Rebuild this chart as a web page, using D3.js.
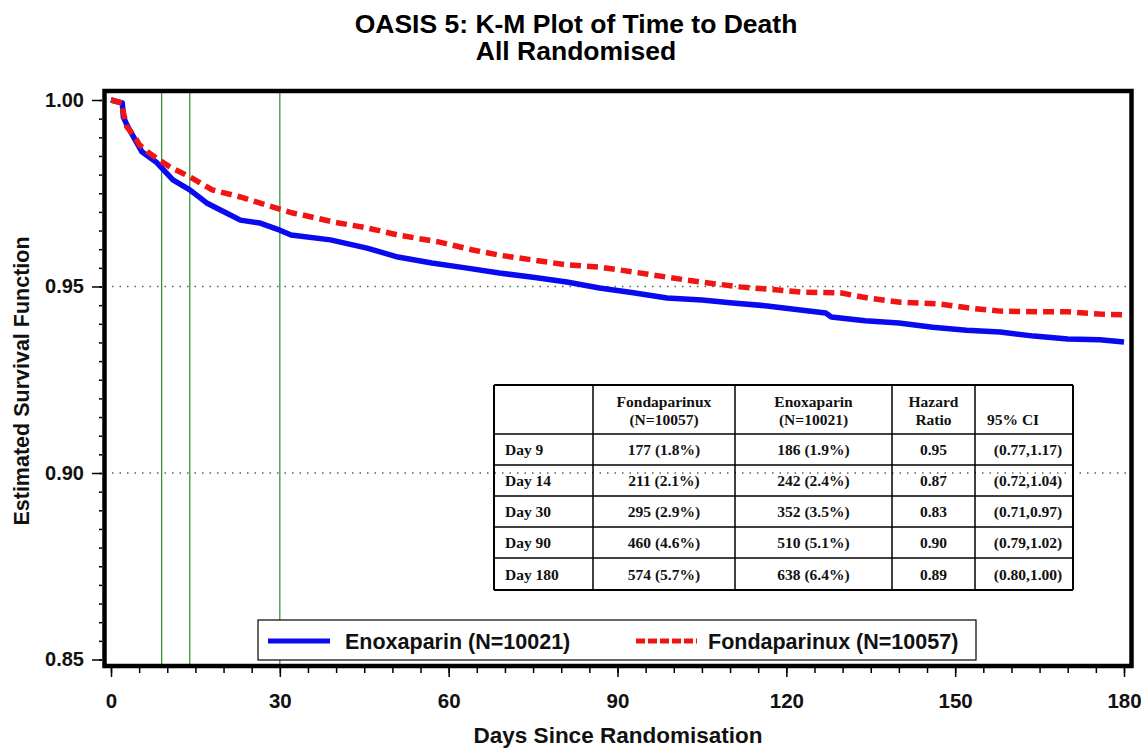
<!DOCTYPE html>
<html>
<head>
<meta charset="utf-8">
<script src="https://cdn.jsdelivr.net/npm/d3@7"></script>
<style>
  html, body { margin: 0; padding: 0; background: #fff; }
  svg { display: block; }
  .sans { font-family: "Liberation Sans", Arial, sans-serif; }
  .serif { font-family: "Liberation Serif", "Times New Roman", serif; }
</style>
</head>
<body>
<svg id="chart" width="1145" height="749"></svg>
<script>
// ---------- DATA ----------
const titleLines = ["OASIS 5: K-M Plot of Time to Death", "All Randomised"];
const xLabel = "Days Since Randomisation";
const yLabel = "Estimated Survival Function";

const xTicks = [0, 30, 60, 90, 120, 150, 180];
const yTicks = [0.85, 0.90, 0.95, 1.00];
const refDays = [9, 14, 30];          // vertical reference lines
const refSurv = [0.95, 0.90];         // horizontal dotted lines

// Enoxaparin (blue, solid)
const enoxDays = [0, 2.0, 2.2, 3, 4, 5.5, 8, 9, 11, 14, 17, 20.5, 23, 26.5, 30, 32, 39, 45.5, 51, 57, 63, 69, 75, 81, 86.8, 92.8, 98.8, 105, 110.5, 116.6, 122.5, 127, 128, 134, 140, 146, 152, 158, 164, 170, 175.7, 180];
const enoxSurv = [1.0, 0.9992, 0.9954, 0.9928, 0.9901, 0.9861, 0.9834, 0.9818, 0.9786, 0.9759, 0.9724, 0.9697, 0.9678, 0.9670, 0.9651, 0.9638, 0.9625, 0.9603, 0.9579, 0.9563, 0.9550, 0.9536, 0.9525, 0.9512, 0.9496, 0.9483, 0.9469, 0.9464, 0.9456, 0.9448, 0.9437, 0.9429, 0.9418, 0.9408, 0.9402, 0.9391, 0.9383, 0.9378, 0.9367, 0.9359, 0.9357, 0.9351];

// Fondaparinux (red, dashed)
const fondaDays = [0, 2.0, 2.1, 2.8, 4, 5.1, 6.5, 8.6, 10.5, 14, 18, 23, 27.7, 32.3, 34, 39.5, 45.5, 51, 58.4, 64.3, 69, 75, 81, 86.8, 92.8, 98.8, 104.7, 111.8, 116.6, 122.5, 129.6, 134.5, 140.2, 147.3, 152.6, 158, 165, 170, 175.7, 180];
const fondaSurv = [1.0, 0.9992, 0.9973, 0.9928, 0.9906, 0.9879, 0.9861, 0.9839, 0.9820, 0.9794, 0.9759, 0.9740, 0.9718, 0.9697, 0.9692, 0.9673, 0.9657, 0.9638, 0.9619, 0.9598, 0.9584, 0.9571, 0.9558, 0.9552, 0.9539, 0.9525, 0.9512, 0.9499, 0.9493, 0.9485, 0.9483, 0.9469, 0.9458, 0.9453, 0.9442, 0.9434, 0.9432, 0.9432, 0.9426, 0.9424];

const legendLabels = ["Enoxaparin (N=10021)", "Fondaparinux (N=10057)"];

// Table
const tableHeader1 = ["", "Fondaparinux", "Enoxaparin", "Hazard", ""];
const tableHeader2 = ["", "(N=10057)", "(N=10021)", "Ratio", "95% CI"];
const tableDays = ["Day 9", "Day 14", "Day 30", "Day 90", "Day 180"];
const fondaEvents = ["177 (1.8%)", "211 (2.1%)", "295 (2.9%)", "460 (4.6%)", "574 (5.7%)"];
const enoxEvents = ["186 (1.9%)", "242 (2.4%)", "352 (3.5%)", "510 (5.1%)", "638 (6.4%)"];
const hazardRatios = ["0.95", "0.87", "0.83", "0.90", "0.89"];
const ciValues = ["(0.77,1.17)", "(0.72,1.04)", "(0.71,0.97)", "(0.79,1.02)", "(0.80,1.00)"];

// ---------- DRAW ----------
const svg = d3.select("#chart");
const x = d3.scaleLinear().domain([0, 180]).range([111, 1124]);
const y = d3.scaleLinear().domain([0.85, 1.0]).range([659.5, 100]);

const frame = { left: 104.5, top: 91, right: 1131.5, bottom: 666 };

// title
svg.append("g").selectAll("text").data(titleLines).join("text")
  .attr("class", "sans")
  .attr("x", 576).attr("y", (d, i) => 33 + i * 27)
  .attr("text-anchor", "middle")
  .attr("font-size", 26.5).attr("font-weight", "bold")
  .text(d => d);

// horizontal dotted reference lines
svg.append("g").selectAll("line").data(refSurv).join("line")
  .attr("x1", frame.left).attr("x2", frame.right)
  .attr("y1", d => y(d)).attr("y2", d => y(d))
  .attr("stroke", "#4f6a4f").attr("stroke-width", 1.3)
  .attr("stroke-dasharray", "1.5,6");

// vertical green lines
svg.append("g").selectAll("line").data(refDays).join("line")
  .attr("x1", d => x(d)).attr("x2", d => x(d))
  .attr("y1", frame.top).attr("y2", frame.bottom)
  .attr("stroke", "#2e8a2e").attr("stroke-width", 1.2);

// curves
const line = d3.line().x(d => x(d[0])).y(d => y(d[1])).curve(d3.curveLinear);
const enoxPts = enoxDays.map((d, i) => [d, enoxSurv[i]]);
const fondaPts = fondaDays.map((d, i) => [d, fondaSurv[i]]);

svg.append("path").datum(enoxPts)
  .attr("d", line).attr("fill", "none")
  .attr("stroke", "#0a0af0").attr("stroke-width", 5.5)
  .attr("stroke-linejoin", "round");

svg.append("path").datum(fondaPts)
  .attr("d", line).attr("fill", "none")
  .attr("stroke", "#f01414").attr("stroke-width", 5.5)
  .attr("stroke-dasharray", "11,6");

// frame
svg.append("rect")
  .attr("x", frame.left).attr("y", frame.top)
  .attr("width", frame.right - frame.left).attr("height", frame.bottom - frame.top)
  .attr("fill", "none").attr("stroke", "#000").attr("stroke-width", 4.5);

// y axis
const yAxisG = svg.append("g").attr("transform", "translate(102,0)");
yAxisG.call(d3.axisLeft(y).tickValues(d3.range(0.85, 1.0001, 0.005)).tickSize(3).tickFormat(""));
yAxisG.append("g").call(d3.axisLeft(y).tickValues(yTicks).tickSize(10).tickPadding(8).tickFormat(d3.format(".2f")));
yAxisG.selectAll(".domain").remove();
yAxisG.selectAll("line").attr("stroke", "#000").attr("stroke-width", 1.5);
yAxisG.selectAll("text").attr("class", "sans").attr("font-size", 20).attr("font-weight", "bold").attr("fill", "#111");

// x axis
const xAxisG = svg.append("g").attr("transform", "translate(0,668)");
xAxisG.call(d3.axisBottom(x).tickValues(d3.range(0, 181, 5)).tickSize(5).tickFormat(""));
xAxisG.append("g").call(d3.axisBottom(x).tickValues(xTicks).tickSize(9).tickPadding(16).tickFormat(d3.format("d")));
xAxisG.selectAll(".domain").remove();
xAxisG.selectAll("line").attr("stroke", "#000").attr("stroke-width", 1.5);
xAxisG.selectAll("text").attr("class", "sans").attr("font-size", 20.5).attr("font-weight", "bold").attr("fill", "#111");

// axis titles
svg.append("text").attr("class", "sans")
  .attr("transform", "translate(29,381) rotate(-90)")
  .attr("text-anchor", "middle").attr("font-size", 21.5).attr("font-weight", "bold")
  .attr("fill", "#111")
  .text(yLabel);
svg.append("text").attr("class", "sans")
  .attr("x", 618).attr("y", 743)
  .attr("text-anchor", "middle").attr("font-size", 22.5).attr("font-weight", "bold")
  .attr("fill", "#111")
  .text(xLabel);

// legend
const lg = svg.append("g");
lg.append("rect").attr("x", 258).attr("y", 620).attr("width", 718).attr("height", 40)
  .attr("fill", "#fff").attr("stroke", "#000").attr("stroke-width", 1.2);
const legendItems = [
  { x0: 268, x1: 330, tx: 345, color: "#0a0af0", dash: null },
  { x0: 636, x1: 697, tx: 708, color: "#f01414", dash: "9,3" }
];
legendItems.forEach((it, i) => {
  lg.append("line").attr("x1", it.x0).attr("x2", it.x1).attr("y1", 641).attr("y2", 641)
    .attr("stroke", it.color).attr("stroke-width", 5)
    .attr("stroke-dasharray", it.dash);
  lg.append("text").attr("class", "sans").attr("x", it.tx).attr("y", 648.5)
    .attr("font-size", 21.5).attr("font-weight", "bold").attr("fill", "#111")
    .text(legendLabels[i]);
});

// table
const colX = [494, 593, 735, 892, 975, 1073];
const rowY = [385, 434, 465, 496, 527, 558, 590];
const tg = svg.append("g").attr("class", "serif");
colX.forEach((cx, i) => {
  tg.append("line").attr("x1", cx).attr("x2", cx).attr("y1", rowY[0]).attr("y2", rowY[rowY.length - 1])
    .attr("stroke", "#000").attr("stroke-width", (i === 0 || i === colX.length - 1) ? 2 : 1.5);
});
rowY.forEach((ry, i) => {
  tg.append("line").attr("x1", colX[0]).attr("x2", colX[colX.length - 1]).attr("y1", ry).attr("y2", ry)
    .attr("stroke", "#000").attr("stroke-width", (i === 0 || i === rowY.length - 1) ? 2 : 1.5);
});
const fs = 15.5;
const cellText = (tx, ty, txt, anchor) => tg.append("text")
  .attr("x", tx).attr("y", ty).attr("text-anchor", anchor || "middle")
  .attr("font-size", fs).attr("font-weight", "bold").attr("fill", "#111").text(txt);
for (let c = 1; c < 5; c++) {
  const cx = (colX[c] + colX[c + 1]) / 2;
  if (c === 4) {
    cellText(987, 425, tableHeader2[c], "start");
  } else {
    cellText(cx, 407, tableHeader1[c]);
    cellText(cx, 425, tableHeader2[c]);
  }
}
const cols = [fondaEvents, enoxEvents, hazardRatios, ciValues];
tableDays.forEach((d, r) => {
  const ty = (rowY[r + 1] + rowY[r + 2]) / 2 + 5.5;
  cellText(505, ty, d, "start");
  cols.forEach((arr, c) => {
    const cx = (colX[c + 1] + colX[c + 2]) / 2 + (c === 3 ? 4 : 0);
    cellText(cx, ty, arr[r]);
  });
});
</script>
</body>
</html>
